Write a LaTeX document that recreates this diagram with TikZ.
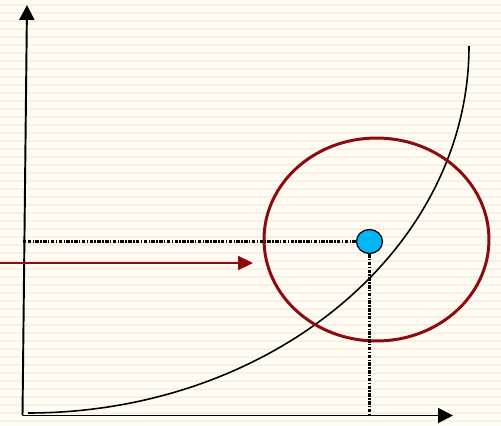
\documentclass[tikz,border=0pt]{standalone}
\usepackage{tikz}
\usetikzlibrary{arrows.meta,shapes.geometric}
\definecolor{PaperCream}{HTML}{FFFCF3}
\definecolor{PaperStripe}{HTML}{FCEEE2}
\definecolor{RegionRed}{HTML}{8A0C0C}
\definecolor{DotBlue}{HTML}{00B6F4}

\begin{document}
\begin{tikzpicture}[x=0.02cm, y=-0.02cm,
    axis/.style={black, line width=1.1pt, -{Triangle[length=8.5pt, width=8.5pt]}},
    guide/.style={black, line width=1.3pt, dash pattern=on 2pt off 0.8pt on 0.8pt off 0.8pt},
    inarrow/.style={RegionRed, line width=1pt, -{Triangle[length=8.5pt, width=8pt]}}]
  % paper background
  \fill[PaperCream] (0,0) rectangle (501,426);
  \foreach \y in {4,12,...,420}
    \fill[PaperStripe] (0,\y) rectangle (501,\y+2);
  \useasboundingbox (0,0) rectangle (501,426);

  \coordinate (origin) at (22.5,415.5);
  \coordinate (ytop) at (27,5);
  \coordinate (xend) at (453,415.5);
  \draw[axis] (origin) -- (ytop);
  \draw[axis] (origin) -- (xend);

  % curve
  \draw[black, line width=0.9pt] (28,413)
    arc[start angle=90, end angle=0, x radius=441, y radius=367];

  \node[ellipse, draw=RegionRed, line width=1.7pt, inner sep=0pt,
    minimum width=4.5cm, minimum height=4.06cm] (region) at (376.5,239.5) {};
  \node[ellipse, draw=black, fill=DotBlue, line width=0.7pt, inner sep=0pt,
    minimum width=0.52cm, minimum height=0.48cm] (pt) at (369.5,241.5) {};

  \draw[guide] (pt.west) -- (pt.west -| origin);
  \draw[guide] (pt.south) -- (pt.south |- origin);

  \coordinate (src) at (0,263);
  \coordinate (tip) at (253,263);
  \draw[inarrow] (src) -- (tip);
\end{tikzpicture}
\end{document}
